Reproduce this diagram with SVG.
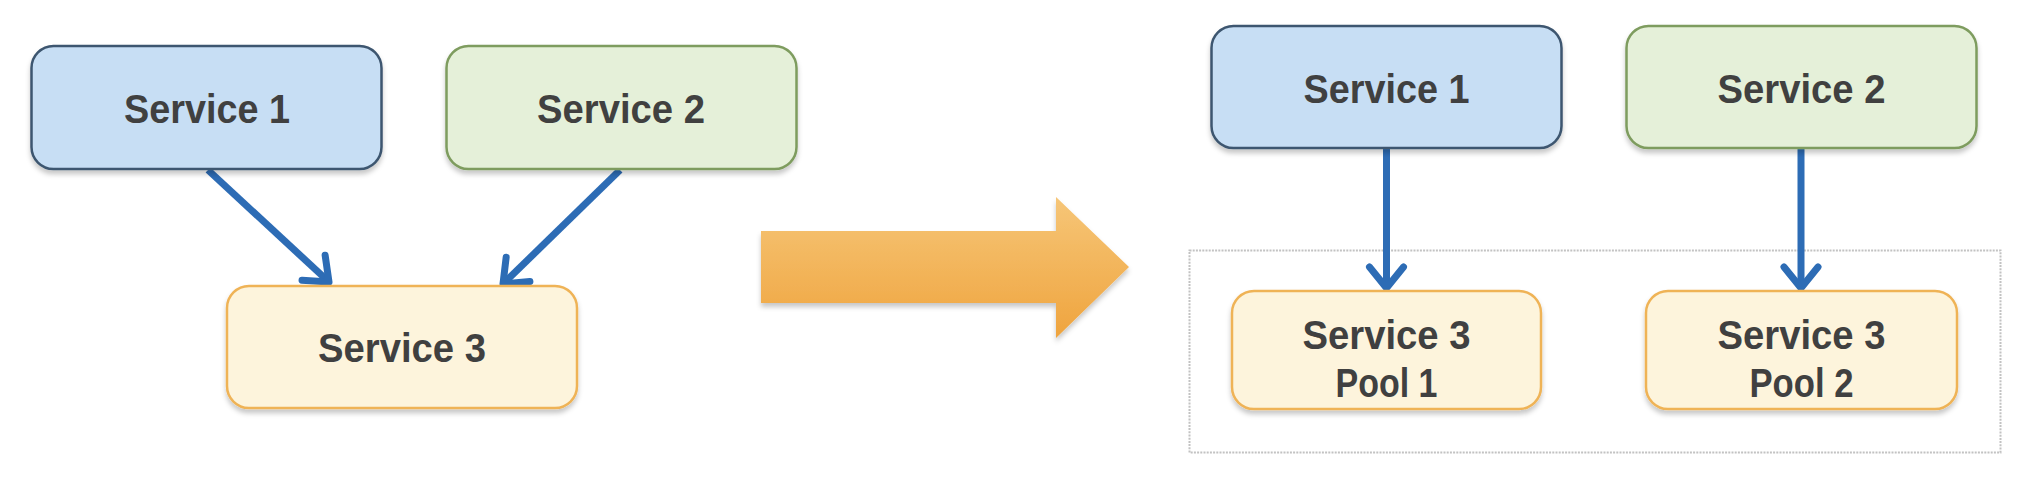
<svg xmlns="http://www.w3.org/2000/svg" width="2029" height="480" viewBox="0 0 2029 480">
  <style>
    .box { stroke-width: 2.5; filter: url(#shadow); }
    .blue { fill: #C7DEF4; stroke: #3E566F; }
    .green { fill: #E5F0D9; stroke: #7E9C5E; }
    .yellow { fill: #FDF4DC; stroke: #EFB357; }
    .label { font-family: "Liberation Sans", Arial, sans-serif; font-weight: bold; font-size: 41px; fill: #404040; text-anchor: middle; }
    .conn { stroke: #2D6CB5; stroke-width: 7; fill: none; marker-end: url(#chev); }
  </style>
  <defs>
    <filter id="shadow" x="-10%" y="-10%" width="120%" height="130%">
      <feDropShadow dx="0" dy="4" stdDeviation="2.5" flood-color="#000" flood-opacity="0.22"/>
    </filter>
    <linearGradient id="orange" x1="0" y1="0" x2="0" y2="1">
      <stop offset="0" stop-color="#F6C678"/>
      <stop offset="1" stop-color="#EFA43E"/>
    </linearGradient>
    <marker id="chev" markerUnits="userSpaceOnUse" markerWidth="44" markerHeight="44" viewBox="0 0 44 44" refX="33" refY="22" orient="auto">
      <path d="M12,5 L33,22 L12,39" fill="none" stroke="#2D6CB5" stroke-width="7" stroke-linecap="round" stroke-linejoin="round"/>
    </marker>
  </defs>

  <rect width="2029" height="480" fill="#FFFFFF"/>

  <!-- dotted container -->
  <rect id="pool-container" x="1189.5" y="250.5" width="811" height="202" fill="none" stroke="#C2C2C2" stroke-width="2" stroke-dasharray="2,1.2"/>

  <g id="connectors">
    <line class="conn" x1="208" y1="170" x2="329" y2="282"/>
    <line class="conn" x1="620" y1="170" x2="503" y2="284"/>
    <line class="conn" x1="1386.5" y1="149" x2="1386.5" y2="288"/>
    <line class="conn" x1="1801" y1="149" x2="1801" y2="288"/>
  </g>

  <g id="transform-arrow">
    <path d="M761,231 L1056,231 L1056,197 L1129,267 L1056,338 L1056,303 L761,303 Z" fill="url(#orange)" filter="url(#shadow)"/>
  </g>

  <g id="left-service1">
    <rect class="box blue" x="31.5" y="46" width="350" height="123" rx="22"/>
    <text class="label" x="207" y="123" textLength="166" lengthAdjust="spacingAndGlyphs">Service 1</text>
  </g>
  <g id="left-service2">
    <rect class="box green" x="446.5" y="46" width="350" height="123" rx="22"/>
    <text class="label" x="621" y="123" textLength="168" lengthAdjust="spacingAndGlyphs">Service 2</text>
  </g>
  <g id="left-service3">
    <rect class="box yellow" x="227" y="286" width="350" height="122" rx="22"/>
    <text class="label" x="402" y="362" textLength="168" lengthAdjust="spacingAndGlyphs">Service 3</text>
  </g>

  <g id="right-service1">
    <rect class="box blue" x="1211.5" y="26" width="350" height="122" rx="22"/>
    <text class="label" x="1386.5" y="103" textLength="166" lengthAdjust="spacingAndGlyphs">Service 1</text>
  </g>
  <g id="right-service2">
    <rect class="box green" x="1626.5" y="26" width="350" height="122" rx="22"/>
    <text class="label" x="1801.5" y="103" textLength="168" lengthAdjust="spacingAndGlyphs">Service 2</text>
  </g>
  <g id="pool1">
    <rect class="box yellow" x="1232" y="291" width="309" height="118" rx="22"/>
    <text class="label" x="1386.5" y="349" textLength="168" lengthAdjust="spacingAndGlyphs">Service 3</text>
    <text class="label" x="1386.5" y="397" textLength="102" lengthAdjust="spacingAndGlyphs">Pool 1</text>
  </g>
  <g id="pool2">
    <rect class="box yellow" x="1646" y="291" width="311" height="118" rx="22"/>
    <text class="label" x="1801.5" y="349" textLength="168" lengthAdjust="spacingAndGlyphs">Service 3</text>
    <text class="label" x="1801.5" y="397" textLength="104" lengthAdjust="spacingAndGlyphs">Pool 2</text>
  </g>
</svg>
